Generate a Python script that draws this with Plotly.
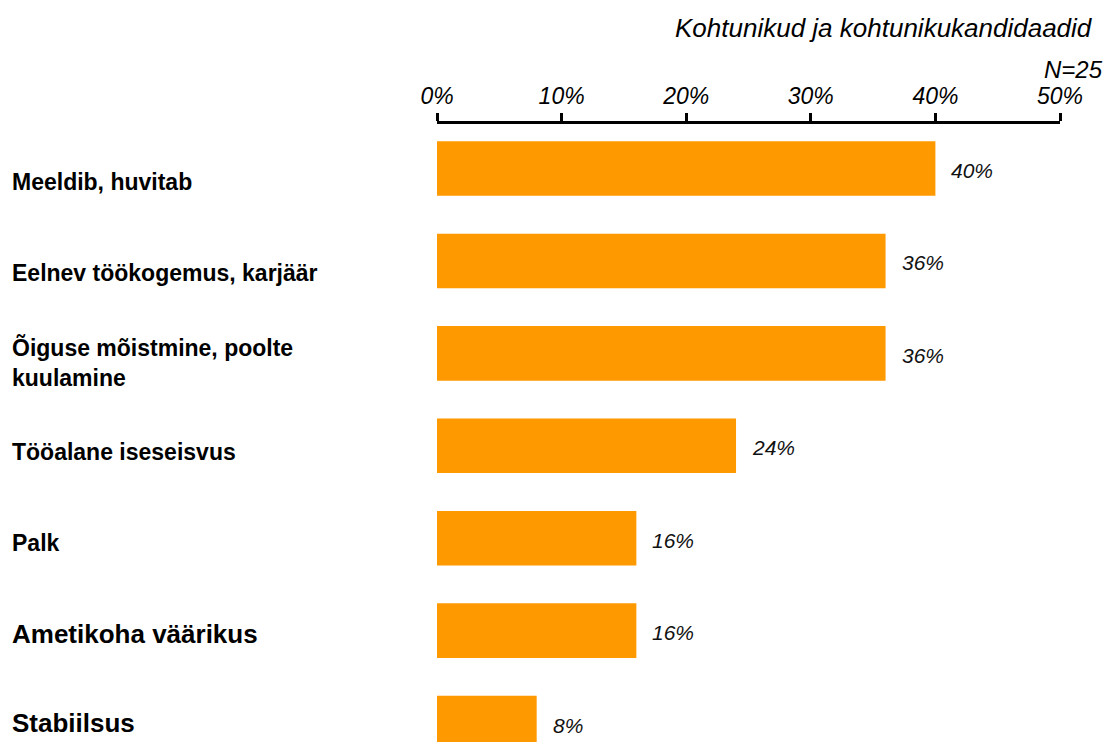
import plotly.graph_objects as go

categories = [
    "Meeldib, huvitab",
    "Eelnev töökogemus, karjäär",
    "Õiguse mõistmine, poolte<br>kuulamine",
    "Tööalane iseseisvus",
    "Palk",
    "Ametikoha väärikus",
    "Stabiilsus",
]
values = [40, 36, 36, 24, 16, 16, 8]
value_labels = ["40%", "36%", "36%", "24%", "16%", "16%", "8%"]
label_sizes = [23, 23, 23, 23, 23, 26, 26]
label_shifts = [-13, -12, -9, -6, -5, -3, 0]
tick_vals = [0, 10, 20, 30, 40, 50]
tick_text = ["0%", "10%", "20%", "30%", "40%", "50%"]
title_text = "Kohtunikud ja kohtunikukandidaadid"
n_text = "N=25"

FONT = "Liberation Sans, Arial, sans-serif"
W, H = 1105, 742
L, R, T, B = 437, 45, 124, 0
pw, ph = W - L - R, H - T - B


def px(x):
    return (x - L) / pw


def py(y):
    return 1 - (y - T) / ph


fig = go.Figure()
fig.add_trace(go.Bar(
    x=values, y=categories, orientation="h",
    marker=dict(color="#FF9900", line=dict(width=0)),
    width=0.59, hoverinfo="skip",
))

ann = []
for c, v, t in zip(categories, values, value_labels):
    ann.append(dict(x=v, y=c, xref="x", yref="y", text=t, showarrow=False,
                    xanchor="left", xshift=14, yshift=-2,
                    font=dict(family=FONT, size=21, color="#111", style="italic")))
for c, s, sh in zip(categories, label_sizes, label_shifts):
    ann.append(dict(x=px(10), y=c, xref="paper", yref="y", text="<b>" + c + "</b>",
                    showarrow=False, xanchor="left", align="left", yshift=sh,
                    font=dict(family=FONT, size=s, color="#000")))
ann.append(dict(x=px(1095), y=py(28), xref="paper", yref="paper", text=title_text,
                showarrow=False, xanchor="right", yanchor="middle",
                font=dict(family=FONT, size=26, color="#000", style="italic")))
ann.append(dict(x=px(1105), y=py(69), xref="paper", yref="paper", text=n_text,
                showarrow=False, xanchor="right", yanchor="middle",
                font=dict(family=FONT, size=24, color="#000", style="italic")))

fig.update_layout(
    width=W, height=H,
    margin=dict(l=L, r=R, t=T, b=B, pad=0),
    paper_bgcolor="white", plot_bgcolor="white",
    showlegend=False,
    annotations=ann,
    xaxis=dict(
        side="top", range=[0, 50], tickvals=tick_vals, ticktext=tick_text,
        showgrid=False, zeroline=False,
        showline=True, linecolor="#000", linewidth=3,
        ticks="outside", ticklen=8, tickwidth=3, tickcolor="#000",
        tickfont=dict(family=FONT, size=23, color="#000", style="italic"),
        fixedrange=True,
    ),
    yaxis=dict(
        range=[6.205, -0.482], showticklabels=False, showgrid=False,
        zeroline=False, showline=False, ticks="", fixedrange=True,
    ),
)
fig.write_html("out.html", config={"displayModeBar": False},
               post_script="document.body.style.margin='0';document.body.style.overflow='hidden';")
